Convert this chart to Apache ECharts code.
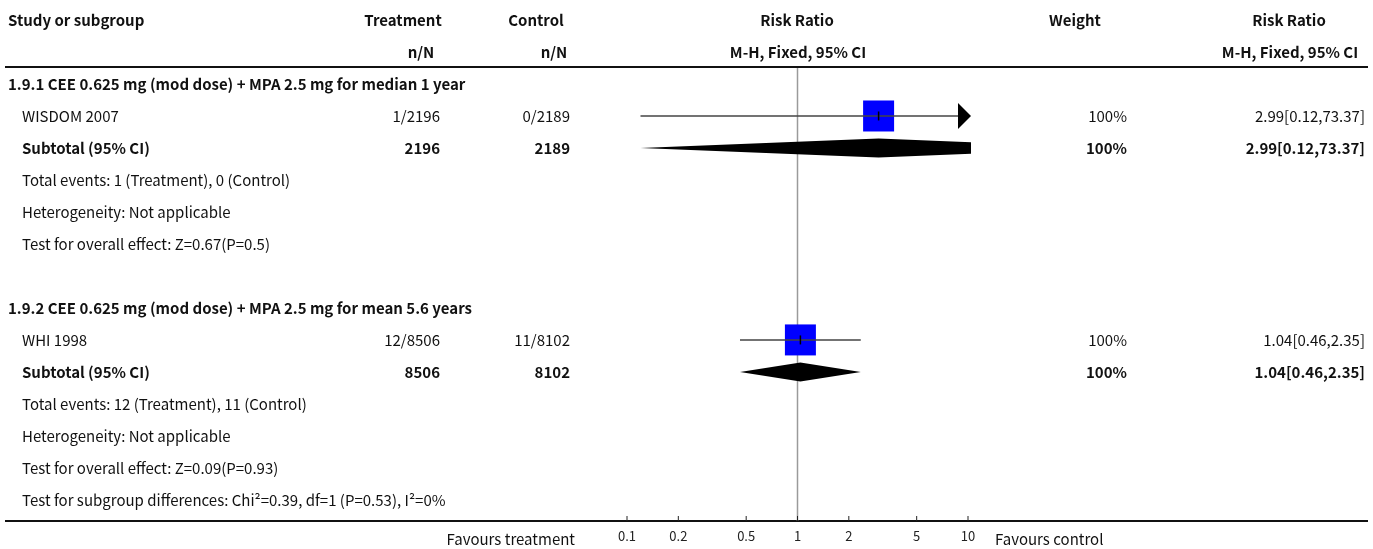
<!DOCTYPE html>
<html>
<head>
<meta charset="utf-8">
<script src="https://cdn.jsdelivr.net/npm/echarts@6/dist/echarts.min.js"></script>
<style>
  html, body { margin: 0; padding: 0; background: #fff; }
  #chart { width: 1373px; height: 549px; }
</style>
</head>
<body>
<div id="chart"></div>
<script>
// ---- data ----
const groupTitles = [
  '1.9.1 CEE 0.625 mg (mod dose) + MPA 2.5 mg for median 1 year',
  '1.9.2 CEE 0.625 mg (mod dose) + MPA 2.5 mg for mean 5.6 years'
];
const studyNames = ['WISDOM 2007', 'WHI 1998'];
const treatEvents = [1, 12];
const treatTotals = [2196, 8506];
const ctrlEvents = [0, 11];
const ctrlTotals = [2189, 8102];
const rrEstimate = [2.99, 1.04];
const rrLower = [0.12, 0.46];
const rrUpper = [73.37, 2.35];
const studyWeights = [100, 100];
const subtotalEstimate = [2.99, 1.04];
const subtotalLower = [0.12, 0.46];
const subtotalUpper = [73.37, 2.35];
const subtotalWeights = [100, 100];
const totalEventsText = [
  'Total events: 1 (Treatment), 0 (Control)',
  'Total events: 12 (Treatment), 11 (Control)'
];
const heterogeneityText = ['Heterogeneity: Not applicable', 'Heterogeneity: Not applicable'];
const overallEffectText = [
  'Test for overall effect: Z=0.67(P=0.5)',
  'Test for overall effect: Z=0.09(P=0.93)'
];
const subgroupDiffText = 'Test for subgroup differences: Chi\u00b2=0.39, df=1 (P=0.53), I\u00b2=0%';
const headerTop = ['Study or subgroup', 'Treatment', 'Control', 'Risk Ratio', 'Weight', 'Risk Ratio'];
const headerBottom = ['n/N', 'n/N', 'M-H, Fixed, 95% CI', 'M-H, Fixed, 95% CI'];
const axisTicks = [0.1, 0.2, 0.5, 1, 2, 5, 10];
const favoursLabels = ['Favours treatment', 'Favours control'];

// ---- layout ----
const FONT = "'Noto Sans CJK SC', 'Source Sans Pro', 'Noto Sans', sans-serif";
const FS = 15;
const X_MIN = 0.1, X_MAX = 10;
const Y_MIN = -0.5, Y_MAX = 13.66;
const COL = { study: 8, indent: 22, treat: 440, ctrl: 570, weight: 1127, rr: 1365 };

function fmtRR(e, l, u) {
  return e.toFixed(2) + '[' + l.toFixed(2) + ',' + u.toFixed(2) + ']';
}

// table rows: each has a row index and text cells
const tableRows = [];
const studyRows = [];
const subtotalRows = [];
tableRows.push({ row: -2, cells: [
  { text: headerTop[0], x: COL.study, align: 'left', bold: true },
  { text: headerTop[1], x: 403, align: 'center', bold: true },
  { text: headerTop[2], x: 536, align: 'center', bold: true },
  { text: headerTop[3], x: 797, align: 'center', bold: true },
  { text: headerTop[4], x: 1075, align: 'center', bold: true },
  { text: headerTop[5], x: 1289, align: 'center', bold: true }
]});
tableRows.push({ row: -1, cells: [
  { text: headerBottom[0], x: 421, align: 'center', bold: true },
  { text: headerBottom[1], x: 554, align: 'center', bold: true },
  { text: headerBottom[2], x: 798, align: 'center', bold: true },
  { text: headerBottom[3], x: 1290, align: 'center', bold: true }
]});
let r = 0;
groupTitles.forEach((title, g) => {
  tableRows.push({ row: r++, cells: [{ text: title, x: COL.study, align: 'left', bold: true }] });
  studyRows.push(r);
  tableRows.push({ row: r++, cells: [
    { text: studyNames[g], x: COL.indent, align: 'left' },
    { text: treatEvents[g] + '/' + treatTotals[g], x: COL.treat, align: 'right' },
    { text: ctrlEvents[g] + '/' + ctrlTotals[g], x: COL.ctrl, align: 'right' },
    { text: studyWeights[g] + '%', x: COL.weight, align: 'right' },
    { text: fmtRR(rrEstimate[g], rrLower[g], rrUpper[g]), x: COL.rr, align: 'right' }
  ]});
  subtotalRows.push(r);
  tableRows.push({ row: r++, cells: [
    { text: 'Subtotal (95% CI)', x: COL.indent, align: 'left', bold: true },
    { text: String(treatTotals[g]), x: COL.treat, align: 'right', bold: true },
    { text: String(ctrlTotals[g]), x: COL.ctrl, align: 'right', bold: true },
    { text: subtotalWeights[g] + '%', x: COL.weight, align: 'right', bold: true },
    { text: fmtRR(subtotalEstimate[g], subtotalLower[g], subtotalUpper[g]), x: COL.rr, align: 'right', bold: true }
  ]});
  tableRows.push({ row: r++, cells: [{ text: totalEventsText[g], x: COL.indent, align: 'left' }] });
  tableRows.push({ row: r++, cells: [{ text: heterogeneityText[g], x: COL.indent, align: 'left' }] });
  tableRows.push({ row: r++, cells: [{ text: overallEffectText[g], x: COL.indent, align: 'left' }] });
  if (g < groupTitles.length - 1) r++; // spacer between subgroups
});
tableRows.push({ row: r++, cells: [{ text: subgroupDiffText, x: COL.indent, align: 'left' }] });

function textEl(x, y, text, align, opts) {
  opts = opts || {};
  return {
    type: 'text',
    x: x, y: y,
    style: {
      text: text,
      align: align, textAlign: align,
      verticalAlign: 'middle', textVerticalAlign: 'middle',
      fontFamily: FONT,
      fontSize: opts.size || FS,
      fontWeight: opts.bold ? 'bold' : 'normal',
      fill: opts.color || '#111'
    }
  };
}

// clip a polygon to the vertical band [L, R]
function clipBand(pts, L, R) {
  function clipEdge(poly, keep, bound) {
    const out = [];
    for (let i = 0; i < poly.length; i++) {
      const a = poly[i], b = poly[(i + 1) % poly.length];
      const ina = keep(a[0]), inb = keep(b[0]);
      if (ina) out.push(a);
      if (ina !== inb) {
        const t = (bound - a[0]) / (b[0] - a[0]);
        out.push([bound, a[1] + t * (b[1] - a[1])]);
      }
    }
    return out;
  }
  let p = clipEdge(pts, x => x >= L, L);
  p = clipEdge(p, x => x <= R, R);
  return p;
}

const chart = echarts.init(document.getElementById('chart'), null, { renderer: 'canvas' });

const option = {
  animation: false,
  backgroundColor: '#fff',
  grid: { left: 627, right: 405, top: 68, bottom: 28, containLabel: false },
  xAxis: {
    type: 'log', logBase: 10, min: X_MIN, max: X_MAX,
    axisLine: { show: false }, axisTick: { show: false },
    axisLabel: { show: false }, splitLine: { show: false }
  },
  yAxis: {
    type: 'value', inverse: true, min: Y_MIN, max: Y_MAX,
    axisLine: { show: false }, axisTick: { show: false },
    axisLabel: { show: false }, splitLine: { show: false }
  },
  graphic: [
    { type: 'line', shape: { x1: 5, y1: 67, x2: 1368, y2: 67 }, style: { stroke: '#111', lineWidth: 2 }, silent: true },
    { type: 'line', shape: { x1: 5, y1: 521, x2: 1368, y2: 521 }, style: { stroke: '#111', lineWidth: 2 }, silent: true }
  ],
  series: [
    {
      // line of no effect
      type: 'custom', silent: true, z: 1,
      data: [[1]],
      renderItem: function (params, api) {
        const top = api.coord([api.value(0), Y_MIN]);
        const bot = api.coord([api.value(0), Y_MAX]);
        return { type: 'line', shape: { x1: top[0], y1: top[1], x2: bot[0], y2: bot[1] },
                 style: { stroke: '#9a9a9a', lineWidth: 1.5 } };
      }
    },
    {
      // axis ticks and labels
      type: 'custom', silent: true, z: 3,
      data: axisTicks.map(v => [v]),
      renderItem: function (params, api) {
        const v = api.value(0);
        const p = api.coord([v, Y_MAX]);
        return { type: 'group', children: [
          { type: 'line', shape: { x1: p[0], y1: p[1] - 5, x2: p[0], y2: p[1] }, style: { stroke: '#222', lineWidth: 1 } },
          textEl(p[0], p[1] + 15, String(v), 'center', { size: 13, color: '#222' })
        ]};
      }
    },
    {
      // favours labels beside the axis
      type: 'custom', silent: true, z: 3,
      data: [[X_MIN], [X_MAX]],
      renderItem: function (params, api) {
        const i = params.dataIndex;
        const p = api.coord([api.value(0), Y_MAX]);
        return i === 0
          ? textEl(p[0] - 52, p[1] + 18, favoursLabels[0], 'right', { size: 15 })
          : textEl(p[0] + 27, p[1] + 18, favoursLabels[1], 'left', { size: 15 });
      }
    },
    {
      // study estimates: CI line, weighted square, point tick
      type: 'custom', silent: true, z: 5,
      encode: { x: 0, y: 1 },
      data: studyNames.map((n, i) => [rrEstimate[i], studyRows[i], rrLower[i], rrUpper[i], studyWeights[i]]),
      renderItem: function (params, api) {
        const est = api.value(0), row = api.value(1), lo = api.value(2), hi = api.value(3), w = api.value(4);
        const c = api.coord([est, row]);
        const L = api.coord([X_MIN, row])[0], R = api.coord([X_MAX, row])[0];
        let x1 = api.coord([Math.max(lo, X_MIN), row])[0];
        let x2 = api.coord([Math.min(hi, X_MAX), row])[0];
        const children = [];
        const size = 31 * Math.sqrt(w / 100);
        children.push({ type: 'rect', shape: { x: c[0] - size / 2, y: c[1] - size / 2, width: size, height: size },
                        style: { fill: '#0000ff' } });
        if (hi > X_MAX) {
          x2 = R - 10;
          children.push({ type: 'polygon', shape: { points: [[R - 10, c[1] - 13], [R + 3, c[1]], [R - 10, c[1] + 13]] },
                          style: { fill: '#000' } });
        }
        if (lo < X_MIN) {
          x1 = L + 10;
          children.push({ type: 'polygon', shape: { points: [[L + 10, c[1] - 13], [L - 3, c[1]], [L + 10, c[1] + 13]] },
                          style: { fill: '#000' } });
        }
        children.push({ type: 'line', shape: { x1: x1, y1: c[1], x2: x2, y2: c[1] },
                        style: { stroke: '#444', lineWidth: 1.5 } });
        children.push({ type: 'line', shape: { x1: c[0], y1: c[1] - 4.5, x2: c[0], y2: c[1] + 4.5 },
                        style: { stroke: '#000', lineWidth: 1.5 } });
        return { type: 'group', children: children };
      }
    },
    {
      // subtotal diamonds
      type: 'custom', silent: true, z: 5,
      encode: { x: 0, y: 1 },
      data: groupTitles.map((t, i) => [subtotalEstimate[i], subtotalRows[i], subtotalLower[i], subtotalUpper[i]]),
      renderItem: function (params, api) {
        const est = api.value(0), row = api.value(1), lo = api.value(2), hi = api.value(3);
        const c = api.coord([est, row]);
        const xl = api.coord([lo, row])[0], xh = api.coord([hi, row])[0];
        const L = api.coord([X_MIN, row])[0] - 3, R = api.coord([X_MAX, row])[0] + 3;
        const h = 9.5;
        const pts = clipBand([[xl, c[1]], [c[0], c[1] - h], [xh, c[1]], [c[0], c[1] + h]], L, R);
        return { type: 'polygon', shape: { points: pts }, style: { fill: '#000' } };
      }
    },
    {
      // table text
      type: 'custom', silent: true, z: 4,
      data: tableRows.map((t, i) => [1, t.row, i]),
      encode: { x: 0, y: 1 },
      renderItem: function (params, api) {
        const t = tableRows[api.value(2)];
        const y = api.coord([1, t.row])[1];
        return { type: 'group', children: t.cells.map(c => textEl(c.x, y, c.text, c.align, { bold: c.bold })) };
      }
    }
  ]
};
chart.setOption(option);
</script>
</body>
</html>
